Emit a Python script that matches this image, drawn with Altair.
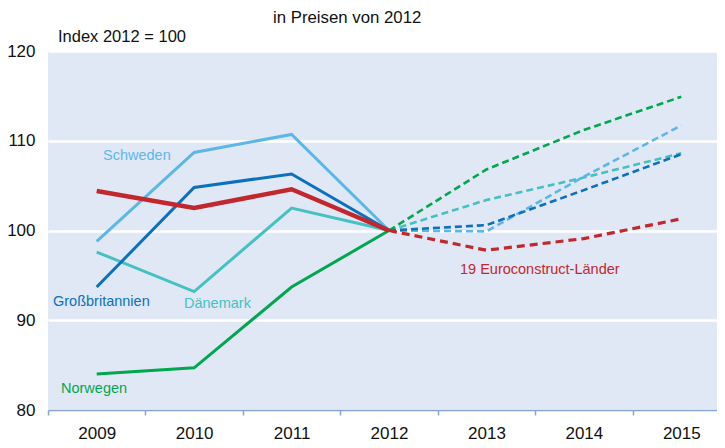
import altair as alt
import pandas as pd

years = ["2009", "2010", "2011", "2012", "2013", "2014", "2015"]
series = ["Dänemark", "Schweden", "Großbritannien", "Norwegen", "19 Euroconstruct-Länder"]
values = {
    "Dänemark":               [97.6, 93.2, 102.5, 100.0, 103.4, 105.9, 108.6],
    "Schweden":               [98.8, 108.7, 110.7, 100.0, 99.9, 106.0, 111.7],
    "Großbritannien":         [93.7, 104.8, 106.3, 100.0, 100.6, 104.5, 108.5],
    "Norwegen":               [84.0, 84.7, 93.7, 100.0, 106.8, 111.2, 114.9],
    "19 Euroconstruct-Länder": [104.4, 102.5, 104.6, 100.0, 97.8, 99.1, 101.3],
}
colors = ["#45c1c1", "#5cb7e7", "#0b70bd", "#00a650", "#c1272d"]
actual_years = ["2009", "2010", "2011", "2012"]
forecast_years = ["2012", "2013", "2014", "2015"]

rows = []
for s in series:
    for y, v in zip(years, values[s]):
        if y in actual_years:
            rows.append({"series": s, "year": y, "value": v, "phase": "Ist"})
        if y in forecast_years:
            rows.append({"series": s, "year": y, "value": v, "phase": "Prognose"})
df = pd.DataFrame(rows)

FONT = "Liberation Sans"

x_enc = alt.X("year:O", sort=years,
              scale=alt.Scale(type="band", domain=years, paddingInner=0, paddingOuter=0,
                              range=[0, 682]),
              axis=alt.Axis(title=None, labelAngle=0, tickBand="extent", labelFontSize=17,
                            labelColor="#111111", labelFont=FONT, domainColor="#86a4d8",
                            tickColor="#86a4d8", tickSize=5, tickWidth=1.5, domainWidth=1.5,
                            labelPadding=10, grid=False))
y_enc = alt.Y("value:Q", scale=alt.Scale(domain=[80, 120], nice=False, zero=False),
              axis=alt.Axis(title=None, values=[80, 90, 100, 110, 120], domain=False, ticks=False,
                            labelFontSize=17, labelFont=FONT, labelColor="#111111",
                            labelPadding=13, gridColor="white", gridWidth=2.5, gridOpacity=1))
color_enc = alt.Color("series:N", scale=alt.Scale(domain=series, range=colors), legend=None)

base = alt.Chart(df)

other = base.transform_filter(alt.datum.series != "19 Euroconstruct-Länder")
red = base.transform_filter(alt.datum.series == "19 Euroconstruct-Länder")

solid = other.transform_filter(alt.datum.phase == "Ist").mark_line(strokeWidth=3).encode(
    x=x_enc, y=y_enc, color=color_enc, detail="series:N")
dashed = other.transform_filter(alt.datum.phase == "Prognose").mark_line(
    strokeWidth=2.6, strokeDash=[7, 4]).encode(
    x=x_enc, y=y_enc, color=color_enc, detail="series:N")
red_solid = red.transform_filter(alt.datum.phase == "Ist").mark_line(strokeWidth=4.5).encode(
    x=x_enc, y=y_enc, color=color_enc)
red_dashed = red.transform_filter(alt.datum.phase == "Prognose").mark_line(
    strokeWidth=3.2, strokeDash=[8, 5]).encode(
    x=x_enc, y=y_enc, color=color_enc)


def label(text, x, y, color, size=14.5, baseline="middle"):
    return alt.Chart(pd.DataFrame({"t": [text]})).mark_text(
        align="left", baseline=baseline, font=FONT, fontSize=size, color=color
    ).encode(text="t:N", x=alt.value(x), y=alt.value(y))


labels = [
    label("in Preisen von 2012", 225, -27.7, "#111111", 16.8, "alphabetic"),
    label("Index 2012 = 100", 10, -9, "#111111", 16.5, "alphabetic"),
    label("Schweden", 55, 105, colors[1]),
    label("Großbritannien", 5, 251, colors[2]),
    label("Dänemark", 136, 253, colors[0]),
    label("Norwegen", 13, 338, colors[3]),
    label("19 Euroconstruct-Länder", 412, 219, colors[4]),
]

chart = alt.layer(solid, dashed, red_solid, red_dashed, *labels).properties(
    width=669, height=359,
    autosize=alt.AutoSizeParams(type="none"),
    padding={"left": 40, "top": 43, "right": 0, "bottom": 40},
).configure(font=FONT).configure_view(fill="#e1e8f5", stroke=None)

chart.save("out.html", embed_options={"renderer": "svg", "actions": False})
